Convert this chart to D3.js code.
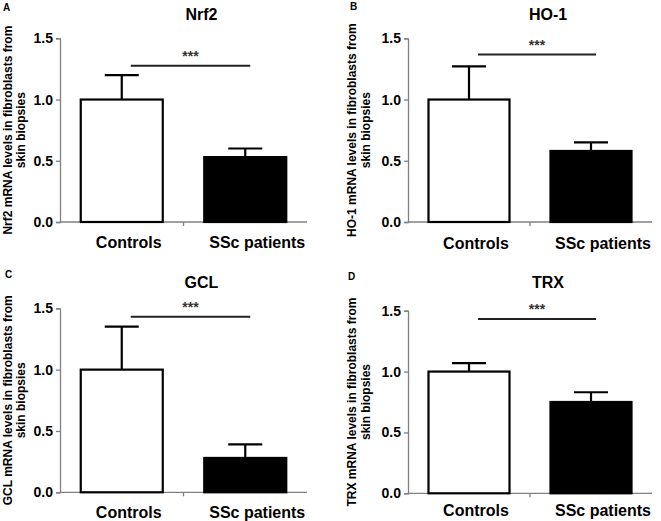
<!DOCTYPE html>
<html>
<head>
<meta charset="utf-8">
<script src="https://cdn.jsdelivr.net/npm/d3@7"></script>
<style>
  html, body { margin: 0; padding: 0; background: #fff; }
  svg { display: block; font-family: "Liberation Sans", Arial, sans-serif; }
</style>
</head>
<body>
<svg id="chart" width="661" height="521"></svg>
<script>
// ---- data ----
const panelLetters = ["A", "B", "C", "D"];
const genes = ["Nrf2", "HO-1", "GCL", "TRX"];
const categories = ["Controls", "SSc patients"];
const controlMeans = [1.00, 1.00, 1.00, 1.00];
const controlUpper = [1.20, 1.27, 1.35, 1.07];
const sscMeans = [0.53, 0.58, 0.28, 0.75];
const sscUpper = [0.60, 0.65, 0.39, 0.83];
const sigLevels = [1.275, 1.367, 1.431, 1.431];
const sigLabel = "***";
const yTicks = [0.0, 0.5, 1.0, 1.5];
const yDomain = [0, 1.5];

// ---- layout (pixel positions of each panel) ----
const layout = [
  { x0: 60,  x1: 307, yTop: 38.3,  yBot: 222,   letter: [3, 11],    titleY: 19.5,  labelX: 11.5, catY: 248 },
  { x0: 408, x1: 652, yTop: 38.3,  yBot: 222,   letter: [350, 10],  titleY: 19.5,  labelX: 356,  catY: 249 },
  { x0: 60,  x1: 307, yTop: 308.3, yBot: 492.3, letter: [5, 278],   titleY: 288.3, labelX: 11.5, catY: 518 },
  { x0: 408, x1: 652, yTop: 310.7, yBot: 493.3, letter: [348, 280], titleY: 288,   labelX: 356,  catY: 516 }
];

const svg = d3.select("#chart");
const axisColor = "#808080";

genes.forEach((gene, i) => {
  const L = layout[i];
  const g = svg.append("g");
  const y = d3.scaleLinear().domain(yDomain).range([L.yBot, L.yTop]);
  const x = d3.scaleBand().domain(categories).range([L.x0, L.x1])
    .paddingInner(0.336).paddingOuter(0.168);
  const means = [controlMeans[i], sscMeans[i]];
  const uppers = [controlUpper[i], sscUpper[i]];
  const fills = ["#ffffff", "#000000"];

  // y axis
  const yAxis = d3.axisLeft(y).tickValues(yTicks).tickFormat(d3.format(".1f"))
    .tickSize(4).tickPadding(3);
  const ya = g.append("g").attr("transform", `translate(${L.x0},0)`).call(yAxis);
  ya.select(".domain").attr("stroke", axisColor).attr("stroke-width", 1.3);
  ya.selectAll(".tick line").attr("stroke", axisColor).attr("stroke-width", 1.3);
  ya.selectAll(".tick text").attr("fill", "#000").attr("font-size", 14)
    .attr("font-weight", "bold").attr("font-family", "Liberation Sans, Arial, sans-serif");

  // x axis line and middle tick
  g.append("line").attr("x1", L.x0).attr("x2", L.x1).attr("y1", L.yBot).attr("y2", L.yBot)
    .attr("stroke", axisColor).attr("stroke-width", 1.3);
  const mid = (x(categories[0]) + x.bandwidth() + x(categories[1])) / 2;
  g.append("line").attr("x1", mid).attr("x2", mid).attr("y1", L.yBot).attr("y2", L.yBot + 4)
    .attr("stroke", axisColor).attr("stroke-width", 1.3);

  // bars
  categories.forEach((c, k) => {
    const cx = x(c) + x.bandwidth() / 2;
    // error bar (upper only)
    g.append("line").attr("x1", cx).attr("x2", cx).attr("y1", y(means[k])).attr("y2", y(uppers[k]))
      .attr("stroke", "#000").attr("stroke-width", 2.2);
    g.append("line").attr("x1", cx - 17).attr("x2", cx + 17)
      .attr("y1", y(uppers[k])).attr("y2", y(uppers[k]))
      .attr("stroke", "#000").attr("stroke-width", 2.2);
    g.append("rect")
      .attr("x", x(c)).attr("width", x.bandwidth())
      .attr("y", y(means[k])).attr("height", y(0) - y(means[k]))
      .attr("fill", fills[k]).attr("stroke", "#000").attr("stroke-width", 2.2);
    // category label
    const shift = k === 0 ? 7 : 12;
    g.append("text").attr("x", cx + shift).attr("y", L.catY)
      .attr("text-anchor", "middle").attr("font-size", 16).attr("font-weight", "bold")
      .text(c);
  });

  // significance line
  const c0 = x(categories[0]) + x.bandwidth() / 2;
  const c1 = x(categories[1]) + x.bandwidth() / 2;
  const sy = y(sigLevels[i]);
  g.append("line").attr("x1", c0 + 9).attr("x2", c1 + 5).attr("y1", sy).attr("y2", sy)
    .attr("stroke", "#222").attr("stroke-width", 2);
  g.append("text").attr("x", (c0 + 9 + c1 + 5) / 2).attr("y", sy - 5)
    .attr("text-anchor", "middle").attr("font-size", 14).attr("font-weight", "bold")
    .attr("fill", "#333").text(sigLabel);

  // title
  g.append("text").attr("x", (L.x0 + L.x1) / 2 + 18).attr("y", L.titleY)
    .attr("text-anchor", "middle").attr("font-size", 16).attr("font-weight", "bold")
    .text(gene);

  // panel letter
  g.append("text").attr("x", L.letter[0]).attr("y", L.letter[1])
    .attr("font-size", 10).attr("font-weight", "bold").text(panelLetters[i]);

  // y label (two lines)
  const cy = (L.yTop + L.yBot) / 2;
  const lab = g.append("text").attr("transform", `translate(${L.labelX},${cy}) rotate(-90)`)
    .attr("text-anchor", "middle").attr("font-size", 12).attr("font-weight", "bold");
  lab.append("tspan").attr("x", 0).attr("y", 0).text(`${gene} mRNA levels in fibroblasts from`);
  lab.append("tspan").attr("x", 0).attr("y", 13.5).text("skin biopsies");
});
</script>
</body>
</html>
